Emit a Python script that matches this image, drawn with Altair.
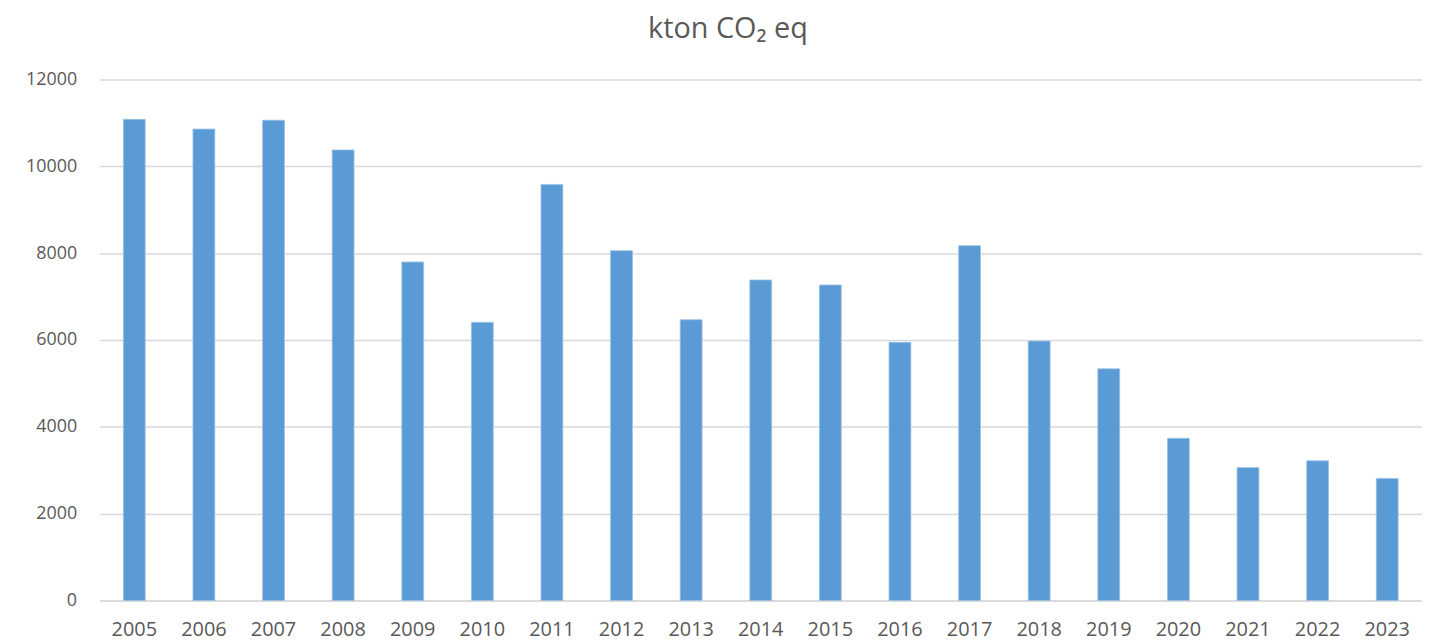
import altair as alt
import pandas as pd

years = [str(y) for y in range(2005, 2024)]
values = [11080, 10855, 11060, 10375, 7795, 6405, 9580, 8055, 6465, 7380,
          7265, 5945, 8170, 5975, 5335, 3735, 3060, 3215, 2810]
y_ticks = [0, 2000, 4000, 6000, 8000, 10000, 12000]

df = pd.DataFrame({"year": years, "value": values})

FONT = "Open Sans"
GREY = "#595959"

chart = alt.Chart(df).mark_bar(color="#5b9bd5", stroke="#9dc3e6", strokeWidth=0.8).encode(
    x=alt.X("year:N", sort=years, title=None,
            scale=alt.Scale(paddingInner=0.686, paddingOuter=0.343),
            axis=alt.Axis(labelAngle=0, ticks=False, domain=True, domainColor="#d9d9d9",
                          domainWidth=1.5, labelFont=FONT, labelFontSize=20,
                          labelColor=GREY, labelPadding=19)),
    y=alt.Y("value:Q", title=None,
            scale=alt.Scale(domain=[0, 12000], nice=False),
            axis=alt.Axis(values=y_ticks, format="d", ticks=False, domain=False,
                          grid=True, gridColor="#d9d9d9", gridWidth=1.5,
                          labelFont=FONT, labelFontSize=18, labelColor=GREY,
                          labelPadding=23)),
).properties(
    width=1330,
    height=524,
    title=alt.TitleParams("kton CO₂ eq", font=FONT, fontSize=29, fontWeight="normal",
                          color=GREY, offset=27, dx=-33),
    autosize=alt.AutoSizeParams(type="none"),
    padding={"left": 92, "top": 70, "right": 0, "bottom": 40},
).configure_view(stroke=None)

chart.save("out.html", embed_options={"renderer": "svg", "actions": False})
